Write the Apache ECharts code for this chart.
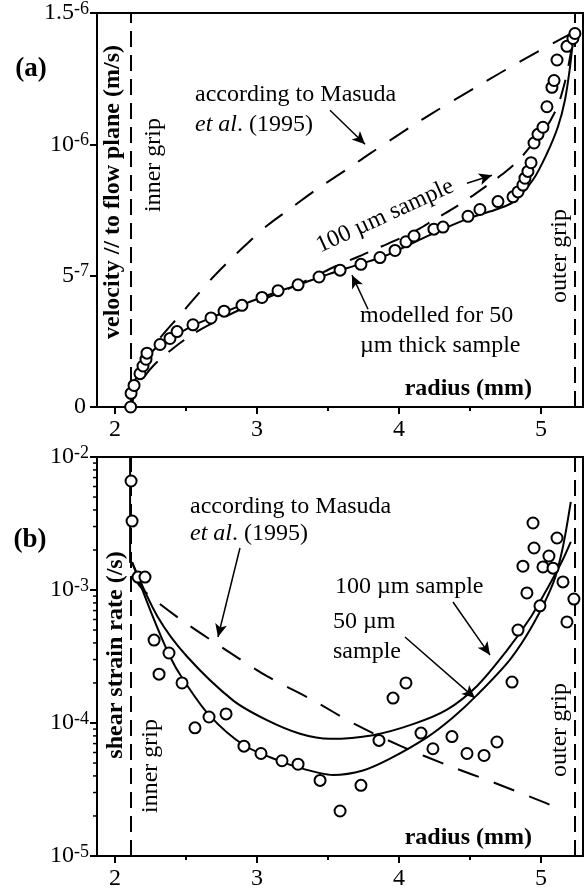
<!DOCTYPE html>
<html><head><meta charset="utf-8">
<script src="https://cdn.jsdelivr.net/npm/echarts@6/dist/echarts.min.js"></script>
<style>html,body{margin:0;padding:0;background:#fff}#c{width:586px;height:892px}</style>
</head><body><div id="c"></div>
<script>
// ---------- Panel (a): velocity (units of 1e-6 m/s) ----------
const circlesA_r = [2.11,2.113,2.134,2.176,2.197,2.218,2.225,2.317,2.387,2.437,2.549,2.676,2.768,2.894,3.035,3.148,3.289,3.437,3.585,3.732,3.866,3.972,4.049,4.106,4.246,4.31,4.486,4.57,4.697,4.803,4.838,4.873,4.887,4.908,4.93,4.951,4.979,5.014,5.042,5.077,5.092,5.113,5.183,5.225,5.239];
const circlesA_v = [0,0.052,0.082,0.127,0.156,0.182,0.205,0.238,0.261,0.287,0.313,0.339,0.365,0.387,0.417,0.443,0.465,0.495,0.521,0.543,0.569,0.596,0.629,0.651,0.677,0.685,0.726,0.752,0.782,0.8,0.819,0.845,0.871,0.897,0.93,1.005,1.038,1.065,1.143,1.217,1.243,1.321,1.373,1.403,1.422];

const model50A_r = [2.106,2.12,2.13,2.15,2.17,2.2,2.25,2.3,2.4,2.55,2.7,2.9,3.1,3.3,3.5,3.7,3.9,4.1,4.3,4.5,4.7,4.803,4.944,5.042,5.12,5.169,5.204,5.225,5.239];
const model50A_v = [0,0.04,0.08,0.115,0.14,0.17,0.205,0.23,0.265,0.31,0.345,0.39,0.43,0.467,0.505,0.54,0.575,0.625,0.675,0.72,0.755,0.78,0.865,0.965,1.068,1.169,1.292,1.392,1.44];

const sample100A_r = [2.106,2.15,2.2,2.268,2.408,2.577,2.8,3.0,3.2,3.4,3.549,3.704,3.85,4.021,4.148,4.239,4.38,4.52,4.676,4.761,4.852,4.923,5.014,5.113,5.17,5.204,5.24];
const sample100A_v = [0,0.06,0.11,0.156,0.223,0.287,0.35,0.40,0.445,0.495,0.535,0.57,0.605,0.645,0.68,0.71,0.755,0.805,0.865,0.9,0.945,0.99,1.045,1.14,1.24,1.33,1.44];

const masudaA_r = [2.11,2.2,2.3,2.458,2.577,2.683,2.81,2.937,3.07,3.254,3.423,3.634,3.782,3.937,4.092,4.239,4.394,4.549,4.852,5.155,5.24];
const masudaA_v = [0,0.15,0.25,0.35,0.425,0.49,0.56,0.625,0.69,0.763,0.83,0.905,0.96,1.015,1.07,1.12,1.17,1.22,1.315,1.405,1.43];

const yTickValuesA = [0,0.5,1,1.5];
const yTickBaseA = ['0','5','10','1.5'];
const yTickExpA = ['','-7','-6','-6'];

// ---------- Panel (b): shear strain rate (/s) ----------
const circlesB_r = [2.113,2.12,2.162,2.211,2.275,2.38,2.31,2.472,2.563,2.662,2.782,2.908,3.028,3.176,3.289,3.444,3.585,3.732,3.859,3.958,4.049,4.155,4.239,4.373,4.479,4.599,4.69,4.796,4.838,4.901,4.993,4.873,4.951,4.944,5.113,5.056,5.014,5.085,5.155,5.232,5.183];
const circlesB_v = [6.6e-3,3.3e-3,1.25e-3,1.25e-3,4.2e-4,3.36e-4,2.33e-4,2.0e-4,9.2e-5,1.11e-4,1.17e-4,6.7e-5,5.9e-5,5.2e-5,4.9e-5,3.7e-5,2.18e-5,3.4e-5,7.4e-5,1.54e-4,2.0e-4,8.4e-5,6.4e-5,7.9e-5,5.9e-5,5.7e-5,7.2e-5,2.03e-4,5.0e-4,9.5e-4,7.6e-4,1.51e-3,2.07e-3,3.19e-3,2.46e-3,1.8e-3,1.49e-3,1.46e-3,1.15e-3,8.55e-4,5.75e-4];

const model50B_r = [2.12,2.254,2.387,2.472,2.662,2.908,3.176,3.303,3.444,3.535,3.746,3.937,4.197,4.38,4.549,4.782,4.944,5.085,5.15,5.21];
const model50B_v = [1.62e-3,6.8e-4,3.16e-4,2.19e-4,1.15e-4,6.8e-5,5.1e-5,4.6e-5,4.2e-5,4.07e-5,4.4e-5,5.4e-5,7.8e-5,1.1e-4,1.62e-4,3.0e-4,5.5e-4,1.12e-3,2.0e-3,4.6e-3];

const sample100B_r = [2.12,2.3,2.507,2.831,3.07,3.303,3.514,3.817,4.099,4.338,4.55,4.75,4.93,5.05,5.15,5.21];
const sample100B_v = [1.62e-3,6.3e-4,3.16e-4,1.48e-4,1.05e-4,8.3e-5,7.6e-5,8.1e-5,9.8e-5,1.26e-4,1.9e-4,3.4e-4,6.3e-4,1.05e-3,1.66e-3,2.3e-3];

const masudaB_r = [2.13,2.211,2.472,2.761,3.07,3.38,3.69,4.014,4.345,4.676,5.014,5.099];
const masudaB_v = [1.25e-3,9.7e-4,5.9e-4,3.66e-4,2.25e-4,1.51e-4,9.8e-5,6.7e-5,4.8e-5,3.54e-5,2.55e-5,2.33e-5];

const minorTicksB = [2e-5,3e-5,4e-5,5e-5,6e-5,7e-5,8e-5,9e-5,2e-4,3e-4,4e-4,5e-4,6e-4,7e-4,8e-4,9e-4,2e-3,3e-3,4e-3,5e-3,6e-3,7e-3,8e-3,9e-3];

// shared
const xTicks = [2,3,4,5];
const xMinorTicks = [2.5,3.5,4.5];
const innerGrip = 2.106, outerGrip = 5.24;
const X_MIN = 1.873, X_MAX = 5.296;

const FONT = '"Liberation Serif", "Times New Roman", serif';
const zip = (a, b) => a.map((v, i) => [v, b[i]]);

const chart = echarts.init(document.getElementById('c'), null, {renderer: 'canvas'});

function xAxisMain(grid) {
  return {type:'value', gridIndex:grid, min:X_MIN, max:X_MAX,
    axisLine:{show:true, onZero:false, lineStyle:{color:'#000', width:2}},
    axisTick:{show:true, inside:false, length:7, customValues:xTicks, lineStyle:{color:'#000', width:2}},
    axisLabel:{show:true, customValues:xTicks, margin:11, color:'#000', fontFamily:FONT, fontSize:24},
    splitLine:{show:false}};
}
function xAxisMinor(grid) {
  return {type:'value', gridIndex:grid, min:X_MIN, max:X_MAX, position:'bottom',
    axisLine:{show:false},
    axisTick:{show:true, inside:false, length:4, customValues:xMinorTicks, lineStyle:{color:'#000', width:2}},
    axisLabel:{show:false}, splitLine:{show:false}};
}
const richLab = {
  b:{fontFamily:FONT, fontSize:24, lineHeight:26, color:'#000'},
  s:{fontFamily:FONT, fontSize:18, lineHeight:18, verticalAlign:'top', color:'#000'},
  z:{fontFamily:FONT, fontSize:24, lineHeight:26, color:'#000', padding:[0,3,0,0]}
};
const lineBase = {type:'line', showSymbol:false, symbol:'none', silent:true, smooth:0.3};
const arrowLine = (pts, curv) => ({
  silent:true, symbol:['none','arrow'], symbolSize:[9,13],
  lineStyle:{color:'#000', width:1.5, type:'solid', curveness:curv||0}, label:{show:false},
  emphasis:{disabled:true},
  data: pts
});
const gripMark = {
  silent:true, symbol:['none','none'], label:{show:false},
  lineStyle:{color:'#000', width:2, type:[16,8]},
  emphasis:{disabled:true},
  data:[{xAxis:innerGrip},{xAxis:outerGrip}]
};
const circleStyle = {color:'#fff', borderColor:'#000', borderWidth:2, opacity:1};

const option = {
  animation:false,
  backgroundColor:'#fff',
  grid:[
    {left:97, top:5, width:486, height:402, show:true, borderColor:'#000', borderWidth:2, backgroundColor:'transparent'},
    {left:97, top:457, width:486, height:399, show:true, borderColor:'#000', borderWidth:2, backgroundColor:'transparent'}
  ],
  xAxis:[xAxisMain(0), xAxisMinor(0), xAxisMain(1), xAxisMinor(1)],
  yAxis:[
    {type:'value', gridIndex:0, min:0, max:1.5,
      axisLine:{show:true, onZero:false, lineStyle:{color:'#000', width:2}},
      axisTick:{show:true, inside:false, length:7, customValues:yTickValuesA, lineStyle:{color:'#000', width:2}},
      axisLabel:{show:true, customValues:yTickValuesA, margin:8,
        formatter:(v)=>{const i = yTickValuesA.findIndex(t=>Math.abs(t-v)<1e-9); if(i<0) return ''; return yTickExpA[i] ? '{b|'+yTickBaseA[i]+'}{s|'+yTickExpA[i]+'}' : '{z|'+yTickBaseA[i]+'}';},
        rich:richLab},
      splitLine:{show:false}},
    {type:'log', logBase:10, gridIndex:1, min:1e-5, max:1e-2,
      axisLine:{show:true, onZero:false, lineStyle:{color:'#000', width:2}},
      axisTick:{show:true, inside:false, length:7, lineStyle:{color:'#000', width:2}},
      axisLabel:{show:true, margin:8,
        formatter:(v)=>'{b|10}{s|'+Math.round(Math.log10(v))+'}', rich:richLab},
      splitLine:{show:false}, minorTick:{show:false}}
  ],
  series:[
    // panel a
    Object.assign({}, lineBase, {name:'masudaA', xAxisIndex:0, yAxisIndex:0, data:zip(masudaA_r, masudaA_v),
      lineStyle:{color:'#000', width:2, type:[22,16]},
      markLine:arrowLine([[{coord:[3.514,1.13]},{coord:[3.761,1.0]}]])}),
    Object.assign({}, lineBase, {name:'sample100A', xAxisIndex:0, yAxisIndex:0, data:zip(sample100A_r, sample100A_v),
      lineStyle:{color:'#000', width:2, type:[20,14]},
      markLine:arrowLine([[{coord:[4.479,0.852]},{coord:[4.655,0.882]}]], -0.45)}),
    Object.assign({}, lineBase, {name:'model50A', xAxisIndex:0, yAxisIndex:0, data:zip(model50A_r, model50A_v),
      lineStyle:{color:'#000', width:2},
      markLine:arrowLine([[{coord:[3.782,0.372]},{coord:[3.669,0.502]}]])}),
    {type:'scatter', name:'dataA', xAxisIndex:0, yAxisIndex:0, data:zip(circlesA_r, circlesA_v), silent:true,
      symbol:'circle', symbolSize:11, z:5, itemStyle:circleStyle, markLine:gripMark},
    // panel b
    Object.assign({}, lineBase, {name:'masudaB', xAxisIndex:2, yAxisIndex:1, data:zip(masudaB_r, masudaB_v),
      lineStyle:{color:'#000', width:2, type:[22,16]},
      markLine:arrowLine([[{coord:[2.88,2.07e-3]},{coord:[2.725,4.43e-4]}]])}),
    Object.assign({}, lineBase, {name:'sample100B', xAxisIndex:2, yAxisIndex:1, data:zip(sample100B_r, sample100B_v),
      lineStyle:{color:'#000', width:2},
      markLine:arrowLine([[{coord:[4.38,8.13e-4]},{coord:[4.641,3.24e-4]}]])}),
    Object.assign({}, lineBase, {name:'model50B', xAxisIndex:2, yAxisIndex:1, data:zip(model50B_r, model50B_v),
      lineStyle:{color:'#000', width:2},
      markLine:arrowLine([[{coord:[4.042,4.43e-4]},{coord:[4.535,1.54e-4]}]])}),
    Object.assign({}, lineBase, {name:'gripTopB', xAxisIndex:2, yAxisIndex:1, smooth:false,
      data:[[innerGrip,1e-2],[innerGrip,1.6e-3]], lineStyle:{color:'#000', width:2}}),
    {type:'scatter', name:'dataB', xAxisIndex:2, yAxisIndex:1, data:zip(circlesB_r, circlesB_v), silent:true,
      symbol:'circle', symbolSize:11, z:5, itemStyle:circleStyle, markLine:gripMark},
    {type:'custom', name:'minorTicksB', xAxisIndex:2, yAxisIndex:1, silent:true, clip:false,
      data:minorTicksB.map(v=>[X_MIN, v]),
      renderItem:(params, api)=>{const p = api.coord([api.value(0), api.value(1)]);
        return {type:'line', shape:{x1:p[0]-4, y1:p[1], x2:p[0], y2:p[1]}, style:{stroke:'#000', lineWidth:1.5}};}}
  ],
  graphic:[]
};

function txt(x, y, text, opts) {
  opts = opts || {};
  const font = (opts.bold ? 'bold ' : '') + (opts.size || 24) + 'px ' + FONT;
  const st = {text:text, font:font, fill:'#000',
    align:opts.align||'left', textAlign:opts.align||'left',
    verticalAlign:'middle', textVerticalAlign:'middle'};
  if (opts.rich) st.rich = opts.rich;
  return {type:'text', x:x, y:y, rotation:opts.rot||0, z:100, style:st};
}
const richEt = {i:{fontFamily:FONT, fontSize:24, fontStyle:'italic', color:'#000'}, n:{fontFamily:FONT, fontSize:24, color:'#000'}};
option.graphic = [
  txt(31, 69, '(a)', {bold:true, size:27, align:'center'}),
  txt(195, 95, 'according to Masuda'),
  txt(195, 125, '{i|et al}{n|. (1995)}', {rich:richEt}),
  txt(113, 192, 'velocity // to flow plane (m/s)', {bold:true, align:'center', rot:Math.PI/2}),
  txt(154, 165, 'inner grip', {align:'center', rot:Math.PI/2}),
  txt(560, 256, 'outer grip', {align:'center', rot:Math.PI/2}),
  txt(385, 216, '100 \u00b5m sample', {align:'center', rot:0.43}),
  txt(360, 316, 'modelled for 50'),
  txt(360, 346, '\u00b5m thick sample'),
  txt(532, 389, 'radius (mm)', {bold:true, align:'right'}),

  txt(30, 540, '(b)', {bold:true, size:27, align:'center'}),
  txt(190, 507, 'according to Masuda'),
  txt(190, 534, '{i|et al}{n|. (1995)}', {rich:richEt}),
  txt(116, 655, 'shear strain rate (/s)', {bold:true, align:'center', rot:Math.PI/2}),
  txt(151, 766, 'inner grip', {align:'center', rot:Math.PI/2}),
  txt(560, 730, 'outer grip', {align:'center', rot:Math.PI/2}),
  txt(335, 587, '100 \u00b5m sample'),
  txt(333, 622, '50 \u00b5m'),
  txt(333, 652, 'sample'),
  txt(532, 838, 'radius (mm)', {bold:true, align:'right'})
];

chart.setOption(option);
</script></body></html>
